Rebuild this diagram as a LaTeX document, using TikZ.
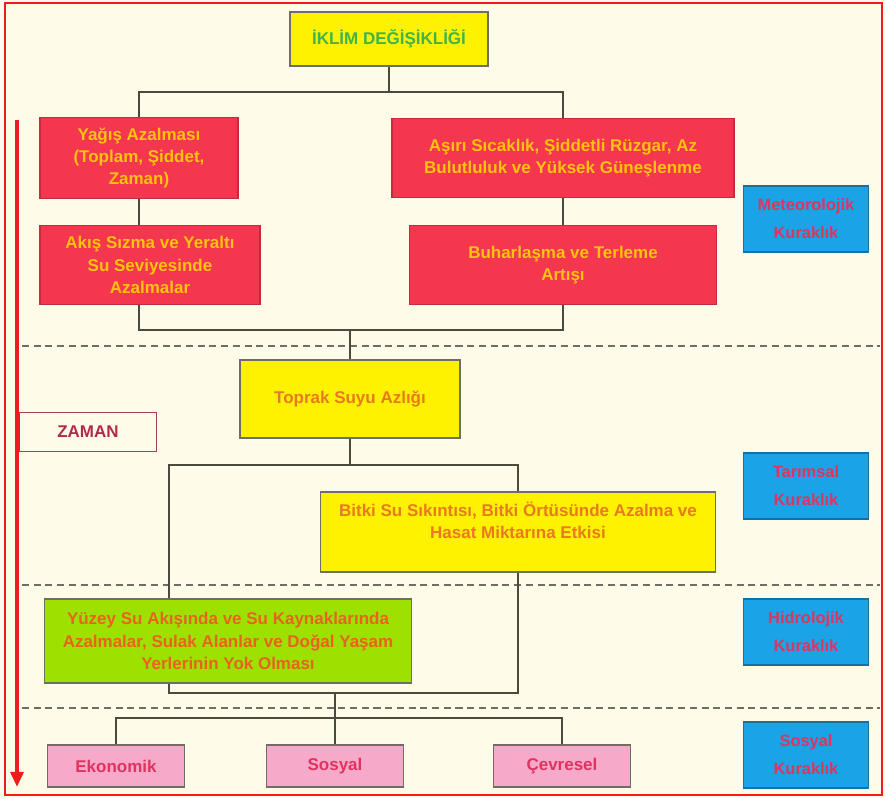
\documentclass[tikz,border=0pt]{standalone}
\usepackage{fontspec}
\setmainfont{Liberation Sans}
\usetikzlibrary{arrows.meta,positioning,calc}
\definecolor{kbg}{HTML}{FFFBE9}
\definecolor{kframe}{HTML}{EE1C1C}
\definecolor{kred}{HTML}{F4364E}
\definecolor{kredtxt}{HTML}{FFC20E}
\definecolor{kyel}{HTML}{FFF200}
\definecolor{kyeltxt}{HTML}{EA7A1E}
\definecolor{ktitle}{HTML}{3DB54A}
\definecolor{kgreen}{HTML}{9EE000}
\definecolor{kgreentxt}{HTML}{E8641E}
\definecolor{kpink}{HTML}{F7A9C9}
\definecolor{kpinktxt}{HTML}{E0335F}
\definecolor{kblue}{HTML}{1AA3E6}
\definecolor{kline}{HTML}{4A4A40}
\tikzset{
  base/.style={align=center,font=\fontsize{14.5}{19}\selectfont\bfseries,inner sep=3pt,line width=0.9pt},
  redb/.style={base,fill=kred,draw=kred!80!black,text=kredtxt},
  yelb/.style={base,fill=kyel,draw=kline!80,text=kyeltxt},
  greenb/.style={base,fill=kgreen,draw=kline!80,text=kgreentxt},
  pinkb/.style={base,fill=kpink,draw=kline!80,text=kpinktxt,minimum width=4.11cm,minimum height=1.26cm},
  blueb/.style={base,fill=kblue,draw=kblue!70!black,text=kpinktxt,font=\fontsize{14}{24}\selectfont\bfseries,minimum width=3.75cm,minimum height=1.98cm},
  zamanb/.style={base,fill=kbg,draw=kpinktxt!60!kline,text=kpinktxt!80!black,minimum width=4.11cm,minimum height=1.17cm},
  conn/.style={draw=kline,line width=0.9pt},
  sep/.style={draw=kline!80,dashed,dash pattern=on 6pt off 4pt,line width=1.2pt},
  zarr/.style={-{Triangle[length=13pt,width=11pt]},draw=kframe,line width=3.5pt},
}
\begin{document}
\begin{tikzpicture}[x=0.03cm,y=-0.03cm]
  \useasboundingbox (0,0) rectangle (885,798);
  \fill[kbg] (0,0) rectangle (885,798);
  \draw[kframe,line width=2.5pt] (5,3) rectangle (882,795);

  % iklim ve meteorolojik adim
  \node[yelb,text=ktitle,minimum width=5.94cm,minimum height=1.62cm] (iklim) at (389,39) {İKLİM DEĞİŞİKLİĞİ};
  \node[redb,minimum width=5.94cm,minimum height=2.43cm] (yagis) at (139,158) {Yağış Azalması\\(Toplam, Şiddet,\\Zaman)};
  \node[redb,minimum width=10.26cm,minimum height=2.37cm] (asiri) at (563,158) {Aşırı Sıcaklık, Şiddetli Rüzgar, Az\\Bulutluluk ve Yüksek Güneşlenme};
  \node[redb,minimum width=6.6cm,minimum height=2.37cm] (akis) at (150,265) {Akış Sızma ve Yeraltı\\Su Seviyesinde\\Azalmalar};
  \node[redb,minimum width=9.21cm,minimum height=2.37cm] (buhar) at (563,265) {Buharlaşma ve Terleme\\Artışı};

  % tarimsal ve hidrolojik adim
  \node[yelb,minimum width=6.6cm,minimum height=2.34cm] (toprak) at (350,399) {Toprak Suyu Azlığı};
  \node[yelb,minimum width=11.85cm,minimum height=2.4cm,text depth=0.7cm] (bitki) at (518,532) {Bitki Su Sıkıntısı, Bitki Örtüsünde Azalma ve\\Hasat Miktarına Etkisi};
  \node[greenb,minimum width=11.01cm,minimum height=2.52cm] (yuzey) at (228,641) {Yüzey Su Akışında ve Su Kaynaklarında\\Azalmalar, Sulak Alanlar ve Doğal Yaşam\\Yerlerinin Yok Olması};

  % etkiler
  \node[pinkb] (eko) at (116,766) {Ekonomik};
  \node[pinkb] (sosyal) at (335,766) {Sosyal};
  \node[pinkb] (cevre) at (562,766) {Çevresel};

  % kuraklik turleri
  \node[blueb] (met) at (806,219) {Meteorolojik\\Kuraklık};
  \node[blueb] (tar) at (806,486) {Tarımsal\\Kuraklık};
  \node[blueb] (hid) at (806,632) {Hidrolojik\\Kuraklık};
  \node[blueb] (sos) at (806,755) {Sosyal\\Kuraklık};

  % zaman
  \node[zamanb] (zaman) at (88,432) {ZAMAN};
  \coordinate (ztop) at (17,120);
  \coordinate (zbot) at (17,787);
  \draw[zarr] (ztop) -- (zbot);

  % ayrac cizgileri
  \foreach \y in {346,585,708} \draw[sep] (22,\y) -- (880,\y);

  % baglantilar
  \coordinate (j1) at (389,92);
  \coordinate (j2) at (350,330);
  \coordinate (j3) at (350,465);
  \coordinate (ja) at (169,0);
  \coordinate (j4) at (335,693);
  \coordinate (j5) at (335,718);
  \draw[conn] (iklim) -- (j1);
  \draw[conn] (yagis.north) |- (j1) -| (asiri.north);
  \draw[conn] (yagis.south) -- (yagis.south |- akis.north);
  \draw[conn] (asiri) -- (buhar);
  \draw[conn] (yagis.south |- akis.south) |- (j2) -| (buhar.south);
  \draw[conn] (j2) -- (toprak.north);
  \draw[conn] (toprak) -- (j3);
  \draw[conn] (yuzey.north -| ja) |- (j3) -| (bitki.north);
  \draw[conn] (yuzey.south -| ja) |- (j4) -| (bitki.south);
  \draw[conn] (j4) -- (sosyal.north);
  \draw[conn] (eko.north) |- (j5) -| (cevre.north);
\end{tikzpicture}
\end{document}
